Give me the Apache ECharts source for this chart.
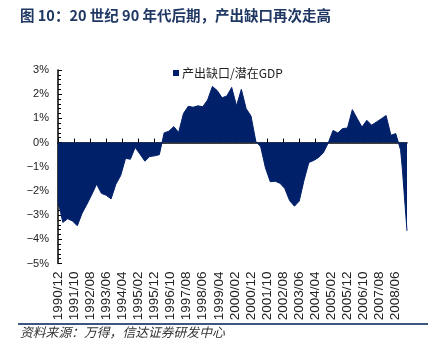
<!DOCTYPE html>
<html>
<head>
<meta charset="utf-8">
<script src="https://cdn.jsdelivr.net/npm/echarts@6/dist/echarts.min.js"></script>
<style>
html,body{margin:0;padding:0;background:#fff;}
#chart{width:439px;height:363px;}
</style>
</head>
<body>
<div id="chart"></div>
<script>
// Monthly category axis: 1990/12 .. 2009/01
var startYear = 1990, startMonth = 12, monthCount = 218;
var categories = [];
for (var i = 0; i < monthCount; i++) {
  var m = startMonth - 1 + i;
  var y = startYear + Math.floor(m / 12);
  var mm = (m % 12) + 1;
  categories.push(y + '/' + (mm < 10 ? '0' + mm : '' + mm));
}

// Observed points (date, output gap / potential GDP, %)
var pointDates = [
  '1990/12','1991/03','1991/06','1991/09','1991/12','1992/03','1992/06','1992/09','1992/12',
  '1993/03','1993/06','1993/09','1993/12','1994/03','1994/06','1994/09','1994/12',
  '1995/03','1995/06','1995/09','1995/12','1996/03','1996/06','1996/09','1996/12',
  '1997/03','1997/06','1997/09','1997/12','1998/03','1998/06','1998/09','1998/12',
  '1999/03','1999/06','1999/09','1999/12','2000/03','2000/06','2000/09','2000/12',
  '2001/03','2001/06','2001/09','2001/12','2002/03','2002/06','2002/09','2002/12',
  '2003/03','2003/06','2003/09','2003/12','2004/03','2004/06','2004/09','2004/12',
  '2005/03','2005/06','2005/09','2005/12','2006/03','2006/06','2006/09','2006/12',
  '2007/03','2007/06','2007/09','2007/12','2008/03','2008/06','2008/09','2008/10','2009/01'
];
var gapValues = [
  -2.4,-3.3,-3.15,-3.24,-3.44,-2.92,-2.55,-2.15,-1.72,
  -2.1,-2.18,-2.33,-1.72,-1.36,-0.65,-0.69,-0.2,
  -0.48,-0.77,-0.58,-0.55,-0.5,0.4,0.47,0.66,
  0.42,1.2,1.5,1.46,1.52,1.48,1.76,2.32,
  2.15,1.85,1.93,2.28,1.52,2.2,1.4,1.1,
  0.05,-0.17,-1.05,-1.62,-1.6,-1.68,-1.9,-2.4,
  -2.63,-2.42,-1.55,-0.82,-0.74,-0.62,-0.42,-0.02,
  0.5,0.4,0.58,0.6,1.36,1.0,0.64,0.92,
  0.72,0.85,0.98,1.12,0.3,0.37,-0.3,-1.0,-3.65
];
var yTicks = [-5,-4,-3,-2,-1,0,1,2,3];
var seriesName = '产出缺口/潜在GDP';
var titleText = '图 10：20 世纪 90 年代后期，产出缺口再次走高';
var sourceText = '资料来源：万得，信达证券研发中心';

var seriesData = pointDates.map(function (d, k) { return [d, gapValues[k]]; });

var chart = echarts.init(document.getElementById('chart'), null, {renderer: 'canvas'});
var navy = '#00206a';
chart.setOption({
  animation: false,
  backgroundColor: '#fff',
  textStyle: {fontFamily: 'Liberation Sans, Arial, sans-serif'},
  grid: {left: 58, right: 32, top: 70, bottom: 99.5, containLabel: false},
  legend: {
    left: 168, top: 62,
    itemWidth: 6, itemHeight: 6,
    icon: 'rect',
    textStyle: {fontFamily: 'Noto Sans CJK SC', fontSize: 12, color: '#222', padding: [0,0,0,-2]},
    data: [seriesName]
  },
  xAxis: [{
    type: 'category',
    data: categories,
    boundaryGap: false,
    position: 'bottom',
    axisLine: {show: false, onZero: false},
    axisTick: {show: false},
    axisLabel: {interval: 9, rotate: 90, margin: 8, fontSize: 13.5, color: '#222',
      fontFamily: 'Liberation Sans, Arial, sans-serif'},
    splitLine: {show: false}
  }, {
    type: 'category',
    data: categories,
    boundaryGap: false,
    position: 'bottom',
    axisLine: {show: true, onZero: true, lineStyle: {color: '#000', width: 1.5}},
    axisTick: {show: true, inside: true, interval: 9, length: 4, lineStyle: {color: '#000', width: 1}},
    axisLabel: {show: false},
    splitLine: {show: false}
  }],
  yAxis: {
    type: 'value',
    min: yTicks[0], max: yTicks[yTicks.length - 1], interval: 1,
    axisLine: {show: true, lineStyle: {color: '#000', width: 1.5}},
    axisTick: {show: true, inside: true, length: 4, lineStyle: {color: '#000'}},
    minorTick: {show: true, splitNumber: 5, length: 3, lineStyle: {color: '#000'}},
    splitLine: {show: false},
    axisLabel: {
      fontSize: 11, color: '#222', margin: 9,
      formatter: function (v) { return (v < 0 ? '\u2212' + (-v) : v) + '%'; }
    }
  },
  series: [{
    name: seriesName,
    type: 'line',
    xAxisIndex: 0,
    data: seriesData,
    symbol: 'none',
    lineStyle: {color: navy, width: 1},
    itemStyle: {color: navy},
    areaStyle: {color: navy, opacity: 1},
    z: 1
  }],
  graphic: [
    {type: 'text', left: 20, top: 8,
      style: {text: titleText, fontSize: 14.5, fontWeight: 'bold', fill: '#1f3763',
        fontFamily: 'Noto Sans CJK SC'}},
    {type: 'line', shape: {x1: 18, y1: 324, x2: 428, y2: 324},
      style: {stroke: '#3b5680', lineWidth: 2}},
    {type: 'text', left: 20, top: 326,
      style: {text: sourceText, fontSize: 12.8, fontStyle: 'italic', fill: '#333',
        fontFamily: 'Noto Sans CJK SC'}}
  ]
});
</script>
</body>
</html>
